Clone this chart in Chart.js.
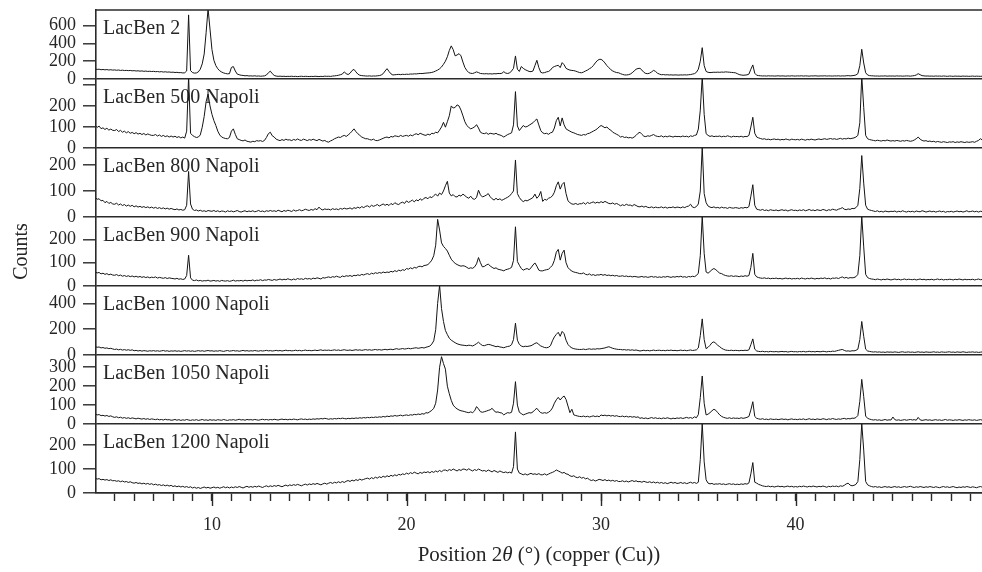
<!DOCTYPE html>
<html><head><meta charset="utf-8">
<script src="https://cdn.jsdelivr.net/npm/chart.js@4.4.1/dist/chart.umd.min.js"></script>
<style>html,body{margin:0;padding:0;background:#fff}#wrap{width:982px;height:572px;position:relative}</style>
</head><body><div id="wrap"><canvas id="c"></canvas></div>
<script>
// 2θ grid: 4.0° to 49.6° in 0.1° steps
const startDeg = 4.0, stepDeg = 0.1;

const lacBen2 = [
112,108,110,104,107,103,106,101,104,100,
102,98,101,96,99,95,97,94,96,92,
94,90,92,88,91,86,89,85,87,84,
86,82,84,80,83,78,81,77,79,75,
77,73,75,71,72,68,70,90,720,95,
72,66,68,80,110,170,280,520,790,560,
330,210,150,115,92,78,68,62,58,60,
130,140,90,55,48,42,40,36,38,34,
35,33,36,32,34,31,33,35,45,70,
88,60,40,33,30,32,29,31,28,30,
29,31,28,30,27,29,31,28,30,29,
27,30,28,31,29,27,30,28,32,30,
31,29,33,35,38,42,48,55,80,60,
50,65,95,108,80,55,42,38,36,34,
33,35,32,34,33,36,38,45,60,90,
116,85,58,45,48,50,52,49,53,51,
54,52,56,55,58,57,60,62,61,64,
66,68,70,74,80,90,100,115,135,165,
200,250,320,372,330,260,270,285,260,190,
130,95,72,64,62,70,80,72,62,60,
58,60,57,59,56,60,58,62,61,64,
82,66,62,68,90,120,259,110,85,140,
120,105,95,85,82,90,150,210,130,75,
68,72,80,85,100,128,140,148,154,128,
184,160,120,108,100,96,94,88,80,72,
70,78,90,100,115,128,150,180,205,220,
221,205,180,150,128,105,90,80,72,70,
60,52,46,45,48,55,70,90,110,118,
120,100,75,62,60,66,80,97,85,65,
55,48,50,46,48,45,47,44,46,45,
44,46,45,47,45,48,50,55,60,75,
110,200,352,150,85,75,72,74,76,75,
77,75,78,76,80,78,76,74,72,70,
60,50,45,42,44,46,55,110,158,65,
42,38,36,34,35,33,36,34,35,33,
34,36,33,35,34,32,35,33,36,34,
33,35,34,36,33,35,34,32,35,34,
36,34,33,35,34,36,33,35,34,33,
35,34,36,33,35,34,36,38,35,37,
40,45,60,150,334,180,70,45,38,36,
35,33,34,32,34,33,35,32,34,33,
34,32,35,33,34,32,33,35,34,32,
35,38,45,60,48,38,35,33,34,32,
33,31,34,32,33,31,34,32,30,33,
32,30,33,31,32,30,33,31,32,30,
31,33,30,32,31,30,32];

const lacBen500 = [
107,98,104,92,96,88,94,85,90,84,
83,88,78,84,75,80,72,78,70,74,
68,73,66,70,64,69,62,67,63,60,
60,64,57,62,55,60,54,58,52,57,
52,56,50,54,48,52,47,80,340,70,
60,54,50,52,62,99,150,220,256,200,
160,130,107,80,62,52,48,45,44,50,
80,91,65,44,40,36,34,38,32,30,
28,32,30,35,33,35,31,36,50,68,
75,58,52,42,38,35,40,36,42,38,
39,35,41,37,43,38,36,42,39,35,
40,37,42,38,35,41,37,33,36,30,
28,34,38,44,48,52,50,56,60,55,
62,70,80,91,78,68,60,52,48,44,
44,40,38,42,36,35,38,42,46,50,
52,48,55,52,58,56,54,60,55,58,
60,56,62,58,64,68,63,70,66,62,
60,66,62,70,68,75,72,85,100,122,
99,125,153,200,190,193,205,200,180,153,
125,107,98,91,95,100,111,95,75,70,
68,72,65,70,68,66,70,64,62,58,
52,58,64,68,72,110,268,105,83,95,
107,100,102,108,114,120,130,138,110,83,
72,68,70,65,72,75,95,130,146,105,
143,110,91,85,80,75,72,68,64,62,
60,64,62,68,70,75,80,85,91,100,
107,102,96,100,90,85,75,70,65,60,
52,55,50,52,48,50,47,52,60,70,
75,65,56,54,58,56,60,64,58,55,
54,58,52,56,53,57,55,52,56,54,
55,53,57,54,56,52,58,55,60,62,
90,180,340,160,68,60,55,58,54,56,
55,57,53,56,54,58,55,52,56,54,
55,53,56,52,55,54,60,100,146,70,
52,48,45,42,44,40,42,39,41,43,
40,42,38,41,39,43,40,38,42,40,
39,41,38,42,40,37,41,39,42,40,
38,41,43,40,42,44,41,43,45,42,
44,41,43,46,42,45,43,47,44,46,
48,52,60,120,340,193,60,44,40,38,
36,34,37,35,33,36,34,38,35,33,
35,33,36,34,32,35,33,36,34,32,
34,38,44,52,42,36,33,35,31,33,
30,32,28,31,29,27,30,28,26,29,
28,30,26,29,27,30,28,26,29,27,
28,30,27,32,36,44,38];

const lacBen800 = [
75,68,70,62,64,55,60,52,56,50,
49,53,46,50,44,48,42,46,41,45,
39,43,38,41,37,40,36,39,35,38,
34,37,33,36,32,35,31,34,30,33,
30,28,31,27,29,26,28,45,175,50,
30,25,27,23,26,22,24,21,25,23,
22,25,21,24,20,23,22,19,24,21,
23,20,22,25,21,19,22,24,20,23,
21,24,20,22,25,21,23,20,24,22,
25,22,24,21,26,23,20,25,22,26,
24,21,27,23,25,28,24,26,30,27,
25,29,26,32,28,38,30,27,31,29,
30,27,32,29,31,28,33,30,34,31,
32,35,30,36,33,38,34,40,36,41,
43,38,45,41,44,48,42,46,50,45,
49,44,52,47,55,50,48,54,57,52,
62,56,60,65,58,66,62,70,64,72,
75,70,78,74,82,88,80,92,86,100,
120,137,92,81,86,78,77,84,80,88,
82,76,72,80,70,68,75,103,85,77,
80,84,90,78,70,65,72,66,70,64,
68,72,76,81,90,100,219,90,75,65,
59,64,62,66,70,75,88,72,80,98,
60,68,65,72,75,81,95,120,135,107,
125,133,90,62,55,50,49,52,48,51,
51,55,49,56,52,55,58,53,57,54,
59,55,60,56,52,51,54,49,52,48,
43,47,44,49,45,46,42,48,44,40,
39,42,38,41,37,36,39,35,38,36,
36,39,35,38,34,37,36,39,35,38,
37,35,39,36,40,42,49,38,36,40,
50,100,270,90,55,42,38,36,39,35,
37,34,38,35,36,33,37,35,34,36,
35,33,36,34,37,35,40,80,124,45,
30,28,26,29,25,27,24,28,26,25,
27,24,26,28,25,27,23,26,28,25,
26,24,27,25,28,24,26,29,25,27,
24,28,26,25,29,27,24,28,26,30,
28,26,30,32,36,30,28,31,29,33,
32,36,45,110,236,130,45,30,27,25,
23,21,24,20,22,19,23,21,20,22,
21,23,19,22,20,24,21,19,22,20,
22,19,23,21,20,24,22,19,21,23,
20,22,19,21,23,20,22,18,21,20,
22,19,21,23,20,22,19,21,24,20,
21,23,20,22,19,22,21];

const lacBen900 = [
60,56,58,52,55,50,53,48,51,47,
46,49,44,47,42,45,41,44,40,43,
39,42,38,41,37,40,36,39,35,38,
36,39,34,37,35,33,36,32,35,33,
32,30,33,29,31,28,30,45,132,35,
25,23,26,22,24,21,23,22,25,21,
22,24,21,23,20,24,22,21,23,20,
22,25,21,23,22,24,21,25,22,24,
23,26,22,25,24,27,23,26,25,28,
26,24,28,25,27,30,26,29,27,31,
28,26,30,27,32,29,31,28,33,30,
32,29,34,31,35,33,30,36,34,37,
39,36,40,38,42,39,37,43,40,44,
42,45,41,46,44,48,45,50,47,51,
53,49,55,52,57,54,58,55,60,57,
60,58,63,60,66,62,68,65,70,67,
75,72,78,74,80,77,83,85,82,88,
89,92,100,111,130,175,286,240,185,170,
161,150,132,115,105,97,92,88,85,87,
85,80,75,78,76,82,95,122,100,82,
84,90,94,86,80,75,78,72,70,68,
65,70,72,75,80,110,254,105,89,75,
68,72,75,70,78,90,99,85,68,65,
65,68,70,72,80,89,110,145,157,111,
140,154,100,79,70,64,60,58,56,53,
53,56,50,48,52,46,49,45,48,47,
50,46,49,45,47,44,46,43,45,42,
42,44,41,43,40,42,39,41,40,38,
39,41,38,40,37,39,41,38,40,37,
39,37,40,38,41,39,37,40,38,41,
39,42,38,40,37,41,39,42,40,45,
55,130,300,140,60,55,62,70,75,70,
62,55,53,48,45,43,42,44,41,43,
42,40,43,41,44,42,45,80,140,50,
39,36,34,33,35,32,34,31,33,32,
34,31,33,30,32,34,31,33,30,32,
31,33,30,34,32,30,33,31,34,32,
30,33,31,34,32,35,31,33,30,34,
33,35,32,36,39,34,37,33,36,35,
36,40,50,130,300,168,50,36,32,30,
29,27,30,28,26,29,27,30,28,26,
28,30,27,29,26,28,30,27,29,28,
27,29,26,28,30,27,29,26,28,27,
29,26,28,30,27,29,26,28,27,29,
28,26,29,27,30,28,26,29,27,28,
27,29,26,28,30,27,28];

const lacBen1000 = [
64,60,62,55,58,52,55,49,52,47,
43,46,40,44,38,42,37,41,36,40,
33,36,31,35,30,34,32,29,33,31,
34,30,33,29,32,35,30,33,28,32,
30,33,29,32,28,31,34,30,33,29,
32,28,31,34,30,33,29,32,35,31,
33,29,32,30,34,31,28,32,35,30,
32,35,31,33,29,32,36,31,34,30,
33,31,35,32,30,34,31,33,36,32,
34,31,33,36,32,35,31,34,37,33,
35,32,34,37,33,36,32,35,38,34,
36,33,35,38,34,37,40,35,38,36,
38,35,37,40,36,39,35,38,41,37,
36,39,35,38,41,37,40,36,39,42,
38,41,37,40,43,39,42,38,41,44,
40,43,45,41,46,49,44,47,50,46,
49,52,48,51,54,56,52,55,58,54,
60,64,69,85,110,196,400,540,360,260,
190,158,130,115,105,95,87,82,78,76,
74,72,76,74,70,78,88,99,85,74,
72,78,82,80,74,70,64,68,62,60,
56,62,66,69,80,120,247,115,82,70,
64,68,66,69,72,80,90,95,82,70,
64,58,56,60,72,110,140,160,176,145,
183,165,115,82,65,55,49,46,44,43,
43,46,42,45,48,44,47,45,49,47,
49,52,55,60,64,58,52,48,45,43,
43,40,42,38,41,37,40,36,39,35,
31,34,37,33,36,32,35,38,34,36,
37,34,36,33,37,35,38,34,36,33,
35,38,34,37,33,36,39,35,37,40,
55,150,280,120,49,60,75,95,102,90,
75,64,52,44,38,36,35,37,34,36,
35,33,36,34,37,35,40,80,125,45,
31,28,26,29,25,27,24,28,26,25,
27,24,26,28,25,27,23,26,28,25,
26,24,27,25,28,24,26,29,25,27,
24,28,26,25,29,27,24,28,26,30,
28,32,36,40,43,36,30,32,29,33,
32,36,45,120,260,145,45,31,28,25,
23,25,22,24,21,23,20,24,22,23,
21,24,22,20,23,25,21,22,24,21,
23,20,22,25,21,23,20,24,22,21,
22,25,21,23,20,24,22,21,23,25,
21,23,20,24,22,21,25,22,20,23,
22,24,21,23,20,22,24];

const lacBen1050 = [
53,48,50,44,46,42,45,40,43,38,
35,38,33,36,31,34,30,33,29,32,
30,27,31,28,26,29,25,28,24,27,
25,23,26,22,24,21,25,22,23,20,
21,24,20,23,19,22,20,24,21,19,
22,20,23,19,21,24,20,22,19,23,
20,22,19,23,21,20,24,21,19,22,
21,23,20,22,25,21,23,20,24,22,
23,21,24,22,20,23,25,22,24,21,
24,22,25,23,21,24,26,23,25,22,
25,23,26,24,22,25,27,24,26,23,
26,24,27,25,28,26,29,27,30,28,
25,28,26,29,27,30,28,31,29,27,
30,28,31,29,32,30,33,31,34,32,
35,33,36,34,37,35,38,36,40,37,
42,39,43,41,45,42,44,47,43,46,
48,45,49,47,51,49,53,50,55,52,
60,58,65,72,83,110,180,300,356,320,
290,200,160,125,100,88,80,74,70,68,
65,62,60,64,60,70,92,80,65,62,
65,68,72,75,83,70,62,64,60,58,
48,55,60,58,62,110,224,100,62,55,
48,52,56,60,58,64,75,83,70,60,
57,60,57,62,70,85,110,128,141,127,
140,148,130,95,60,78,48,45,42,40,
39,42,38,41,37,40,43,39,42,38,
48,44,47,43,46,42,45,41,44,40,
39,42,38,41,37,40,36,39,35,38,
30,33,29,32,28,31,34,30,33,29,
31,28,32,29,33,30,27,31,28,32,
30,33,29,32,35,31,34,30,38,33,
50,140,254,110,48,52,60,70,78,72,
60,48,40,35,32,30,33,29,32,30,
31,29,33,30,32,35,40,75,118,40,
30,27,25,28,24,26,23,27,25,24,
26,23,25,27,24,26,22,25,27,24,
25,23,26,24,27,23,25,28,24,26,
23,27,25,24,28,26,23,27,25,29,
26,24,27,25,28,30,26,29,27,31,
30,34,45,120,236,145,42,30,26,23,
21,23,20,22,19,21,24,20,22,21,
37,23,20,22,19,21,23,20,22,24,
21,23,20,35,22,19,21,23,20,22,
19,21,23,20,22,19,21,24,20,22,
21,19,22,20,23,21,19,22,20,23,
21,20,22,19,21,23,20];

const lacBen1200 = [
62,58,60,55,57,54,56,52,55,51,
52,49,51,47,50,46,48,44,47,43,
41,44,40,42,38,41,37,40,36,39,
34,37,33,35,31,34,30,33,29,32,
27,30,26,29,25,28,24,27,23,26,
21,24,20,23,19,22,25,21,24,20,
22,25,21,24,20,23,26,22,25,21,
25,22,26,23,27,24,21,25,28,24,
27,24,28,25,29,26,23,27,30,26,
30,27,31,28,32,29,26,30,33,29,
34,31,35,32,36,33,30,34,37,33,
38,35,39,36,40,37,34,38,41,37,
41,44,40,45,42,47,43,48,44,49,
52,48,54,50,56,52,58,54,57,60,
62,58,64,60,66,62,68,64,70,66,
72,68,74,70,76,72,78,75,80,77,
83,79,85,81,87,83,80,86,82,88,
85,89,84,90,86,92,88,94,89,95,
96,92,98,94,100,96,92,98,94,100,
99,95,101,96,92,98,94,100,96,92,
94,90,96,92,88,94,90,86,92,88,
85,88,84,87,83,110,255,100,83,80,
76,80,75,79,82,78,80,77,81,76,
76,80,75,79,83,86,90,96,92,88,
83,86,80,78,72,69,72,66,64,68,
62,65,59,62,56,52,55,50,53,57,
55,52,56,51,54,50,53,49,52,48,
48,51,47,50,46,49,52,48,51,47,
48,45,49,46,44,47,43,46,42,45,
41,44,40,43,39,42,45,41,44,40,
41,44,40,43,39,42,45,41,44,40,
45,140,290,130,55,41,38,40,36,38,
37,39,36,38,35,37,39,36,38,35,
37,35,38,36,39,37,42,80,127,45,
41,36,33,30,28,27,29,26,28,25,
27,29,26,28,25,27,29,26,28,25,
27,25,28,26,29,27,25,28,26,29,
27,25,28,26,29,27,24,28,26,29,
27,29,26,30,28,32,38,41,33,30,
32,36,48,140,290,179,48,34,30,27,
25,27,24,26,23,25,27,24,26,23,
25,27,24,26,23,25,27,24,26,28,
25,23,26,24,27,25,23,26,24,27,
25,23,26,24,22,25,27,24,26,23,
25,27,24,22,25,23,26,24,27,25,
23,26,24,22,25,27,24];

const seriesNames = ['LacBen 2','LacBen 500 Napoli','LacBen 800 Napoli','LacBen 900 Napoli','LacBen 1000 Napoli','LacBen 1050 Napoli','LacBen 1200 Napoli'];
const seriesValues = [lacBen2, lacBen500, lacBen800, lacBen900, lacBen1000, lacBen1050, lacBen1200];
const panelMax = [775, 328, 265, 296, 535, 365, 288];
const panelTicks = [[0,200,400,600],[0,100,200,300],[0,100,200],[0,100,200],[0,200,400],[0,100,200,300],[0,100,200]];
const hiddenTickLabels = [[], [300], [], [], [], [], []];
const xMin = 4.04, xMax = 49.58;
const xMinorTicks = [5,6,7,8,9,10,11,12,13,14,15,16,17,18,19,20,21,22,23,24,25,26,27,28,29,30,31,32,33,34,35,36,37,38,39,40,41,42,43,44,45,46,47,48,49];
const xMajorTicks = [10, 20, 30, 40];
const yTitle = 'Counts';
const xTitleParts = [['Position 2', 'normal'], ['θ', 'italic'], [' (°) (copper (Cu))', 'normal']];

const twoTheta = lacBen2.map((_, i) => Math.round((startDeg + i * stepDeg) * 10) / 10);

const FONT = '"Liberation Serif", "DejaVu Serif", serif';
const textColor = '#262626';
const frameColor = '#2a2a2a';
const lineColor = '#141414';

const scales = {
  x: {
    type: 'linear', position: 'bottom', min: xMin, max: xMax,
    afterBuildTicks: s => { s.ticks = xMinorTicks.map(v => ({ value: v })); },
    ticks: { autoSkip: false, maxRotation: 0, padding: 13,
      color: textColor, font: { family: FONT, size: 18 },
      callback: v => xMajorTicks.includes(v) ? String(v) : '' },
    grid: { drawOnChartArea: false, drawTicks: true, tickLength: 8, tickColor: frameColor, tickWidth: 1.4 },
    border: { display: true, color: frameColor, width: 1.6 },
    afterFit: s => { s.height = 79; s.paddingLeft = 0; s.paddingRight = 0; }
  }
};
seriesNames.forEach((n, i) => {
  scales['y' + i] = {
    type: 'linear', position: 'left', stack: 'panels', stackWeight: 1, weight: seriesNames.length - i,
    min: 0, max: panelMax[i],
    afterBuildTicks: s => { s.ticks = panelTicks[i].map(v => ({ value: v })); },
    ticks: { autoSkip: false, padding: 7,
      color: textColor, font: { family: FONT, size: 18 },
      callback: v => hiddenTickLabels[i].includes(v) ? '' : String(v) },
    grid: { drawOnChartArea: true, lineWidth: 1.6,
      color: c => (c.tick && c.tick.value === 0) ? frameColor : 'rgba(0,0,0,0)',
      tickLength: 13, tickColor: frameColor, tickWidth: 1.4 },
    border: { display: true, color: frameColor, width: 1.6 },
    afterFit: s => { s.width = 96; s.paddingTop = 0; s.paddingBottom = 0; }
  };
});

const decorPlugin = {
  id: 'decor',
  beforeDatasetsDraw(chart) {
    const { ctx, chartArea: a } = chart;
    ctx.save();
    ctx.font = '20px ' + FONT; ctx.fillStyle = textColor;
    ctx.textAlign = 'left'; ctx.textBaseline = 'alphabetic';
    chart.data.datasets.forEach(ds => {
      const s = chart.scales[ds.yAxisID];
      ctx.fillText(ds.label, a.left + 7, s.top + 24);
    });
    ctx.restore();
  },
  afterDraw(chart) {
    const { ctx, chartArea: a } = chart;
    const xs = chart.scales.x;
    ctx.save();
    ctx.strokeStyle = frameColor; ctx.lineWidth = 1.6;
    ctx.beginPath(); ctx.moveTo(a.left - 0.8, a.top); ctx.lineTo(a.right, a.top); ctx.stroke();
    ctx.lineWidth = 1.4;
    xMajorTicks.forEach(v => {
      const px = Math.round(xs.getPixelForValue(v)) + 0.5;
      ctx.beginPath(); ctx.moveTo(px, a.bottom); ctx.lineTo(px, a.bottom + 13); ctx.stroke();
    });
    ctx.fillStyle = textColor; ctx.textBaseline = 'alphabetic';
    ctx.save();
    ctx.translate(27, (a.top + a.bottom) / 2); ctx.rotate(-Math.PI / 2);
    ctx.font = '20px ' + FONT; ctx.textAlign = 'center';
    ctx.fillText(yTitle, 0, 0);
    ctx.restore();
    ctx.textAlign = 'left';
    const fontFor = st => (st === 'italic' ? 'italic ' : '') + '21px ' + FONT;
    let total = 0;
    xTitleParts.forEach(p => { ctx.font = fontFor(p[1]); total += ctx.measureText(p[0]).width; });
    let x = (a.left + a.right) / 2 - total / 2;
    xTitleParts.forEach(p => { ctx.font = fontFor(p[1]); ctx.fillText(p[0], x, 561); x += ctx.measureText(p[0]).width; });
    ctx.restore();
  }
};

new Chart(document.getElementById('c'), {
  type: 'line',
  data: {
    datasets: seriesNames.map((n, i) => ({
      label: n,
      data: seriesValues[i].map((v, j) => ({ x: twoTheta[j], y: v })),
      yAxisID: 'y' + i, xAxisID: 'x',
      borderColor: lineColor, borderWidth: 1, pointRadius: 0, tension: 0, fill: false
    }))
  },
  options: {
    animation: false, responsive: true, maintainAspectRatio: false,
    layout: { padding: { top: 10, left: 0, right: 0, bottom: 0 } },
    plugins: { legend: { display: false }, tooltip: { enabled: false } },
    scales
  },
  plugins: [decorPlugin]
});
</script></body></html>
